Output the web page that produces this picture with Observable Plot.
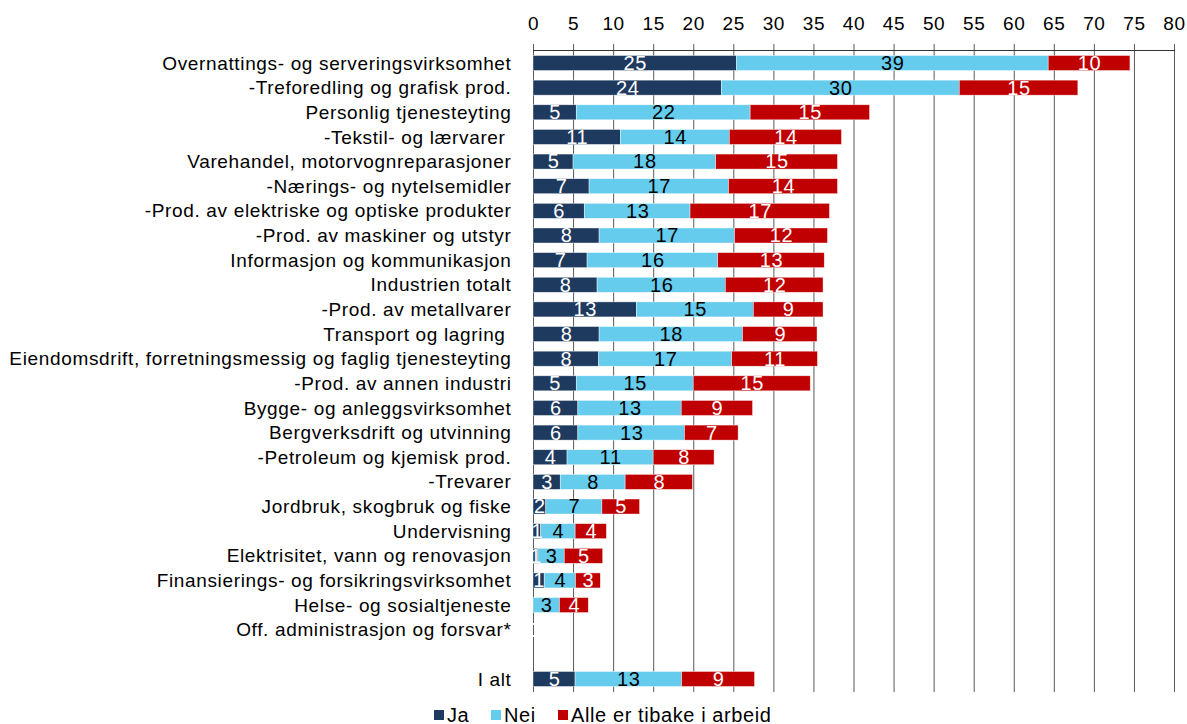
<!DOCTYPE html>
<html>
<head>
<meta charset="utf-8">
<script src="https://cdn.jsdelivr.net/npm/d3@7"></script>
<script src="https://cdn.jsdelivr.net/npm/@observablehq/plot@0.6"></script>
<style>
  html, body { margin: 0; padding: 0; background: #fff; }
  body { width: 1187px; height: 724px; overflow: hidden; font-family: "Liberation Sans", Arial, sans-serif; }
  #chart svg text { white-space: pre; }
  #legend { position: relative; height: 24px; font-size: 20px; letter-spacing: 0.6px; color: #000; }
  #legend .item { position: absolute; top: 4px; display: flex; align-items: center; white-space: nowrap; line-height: 22px; }
  #legend .sw { width: 10px; height: 10px; margin-right: 3px; }
</style>
</head>
<body>
<div id="chart"></div>
<div id="legend"></div>
<script>
const categories = [
  "Overnattings- og serveringsvirksomhet",
  "-Treforedling og grafisk prod.",
  "Personlig tjenesteyting",
  "-Tekstil- og lærvarer ",
  "Varehandel, motorvognreparasjoner",
  "-Nærings- og nytelsemidler",
  "-Prod. av elektriske og optiske produkter",
  "-Prod. av maskiner og utstyr",
  "Informasjon og kommunikasjon",
  "Industrien totalt",
  "-Prod. av metallvarer",
  "Transport og lagring ",
  "Eiendomsdrift, forretningsmessig og faglig tjenesteyting",
  "-Prod. av annen industri",
  "Bygge- og anleggsvirksomhet",
  "Bergverksdrift og utvinning",
  "-Petroleum og kjemisk prod.",
  "-Trevarer",
  "Jordbruk, skogbruk og fiske",
  "Undervisning",
  "Elektrisitet, vann og renovasjon",
  "Finansierings- og forsikringsvirksomhet",
  "Helse- og sosialtjeneste",
  "Off. administrasjon og forsvar*",
  " ",
  "I alt"
];
const ja   = [25.4, 23.5, 5.4, 10.9, 5.0, 7.0, 6.4, 8.25, 6.75, 8.0, 12.9, 8.25, 8.2, 5.4, 5.6, 5.6, 4.25, 3.4, 1.6, 0.96, 0.6, 1.4, null, 0, null, 5.25];
const nei  = [38.9, 29.7, 21.7, 13.6, 17.8, 17.4, 13.2, 16.9, 16.3, 16.0, 14.6, 17.9, 16.6, 14.6, 12.9, 13.3, 10.75, 8.1, 7.0, 4.3, 3.3, 3.9, 3.3, null, null, 13.3];
const alle = [10.2, 14.8, 14.9, 14.0, 15.2, 13.6, 17.4, 11.6, 13.3, 12.2, 8.7, 9.3, 10.7, 14.6, 8.9, 6.7, 7.6, 8.4, 4.7, 3.9, 4.8, 3.1, 3.6, 0, null, 9.1];
const seriesNames = ["Ja", "Nei", "Alle er tibake i arbeid"];
const seriesColors = ["#1F3A5F", "#66CCEE", "#C00000"];
const labelColors = ["#ffffff", "#000000", "#ffffff"];
const xTicks = [0, 5, 10, 15, 20, 25, 30, 35, 40, 45, 50, 55, 60, 65, 70, 75, 80];

const seriesValues = [ja, nei, alle];
const rows = [];
categories.forEach((cat, i) => {
  let cum = 0;
  seriesValues.forEach((vals, k) => {
    const v = vals[i];
    if (v == null) return;
    rows.push({cat, k, series: seriesNames[k], x1: cum, x2: cum + v, mid: cum + v / 2, label: String(Math.round(v)), color: seriesColors[k]});
    cum += v;
  });
});

const font = '"Liberation Sans", Arial, sans-serif';
const chart = Plot.plot({
  width: 1187,
  height: 700,
  marginTop: 50,
  marginBottom: 8,
  marginLeft: 533,
  marginRight: 13,
  style: {fontFamily: font, fontSize: "19px", letterSpacing: "0.65px", color: "#000", background: "#fff"},
  x: {domain: [0, 80], axis: null},
  y: {domain: categories, paddingInner: 0.39, paddingOuter: 0.223, round: false, axis: null},
  color: {type: "identity"},
  marks: [
    Plot.gridX(xTicks, {stroke: "#5a5a5a", strokeOpacity: 1, strokeWidth: 1}),
    Plot.axisX(xTicks, {anchor: "top", tickSize: 7, tickPadding: 14, stroke: "#5a5a5a", fill: "#000", fontSize: 19, tickFormat: d => String(d), label: null}),
    Plot.frame({anchor: "top", stroke: "#333"}),
    Plot.axisY({tickSize: 0, tickPadding: 22, fontSize: 19, fill: "#000", label: null}),
    Plot.barX(rows, {x1: "x1", x2: "x2", y: "cat", fill: "color", stroke: "#ffffff", strokeWidth: 0.6, strokeOpacity: 0.7}),
    ...seriesNames.map((s, k) => Plot.text(rows.filter(d => d.k === k), {
      x: "mid", y: "cat", text: "label", fill: labelColors[k], fontSize: 20
    }))
  ]
});
document.getElementById("chart").appendChild(chart);

const legend = document.getElementById("legend");
const legendLeft = [434, 491, 558];
seriesNames.forEach((s, k) => {
  const item = document.createElement("div");
  item.className = "item";
  item.style.left = legendLeft[k] + "px";
  const sw = document.createElement("span");
  sw.className = "sw";
  sw.style.background = seriesColors[k];
  const t = document.createElement("span");
  t.textContent = s;
  item.appendChild(sw);
  item.appendChild(t);
  legend.appendChild(item);
});
</script>
</body>
</html>
